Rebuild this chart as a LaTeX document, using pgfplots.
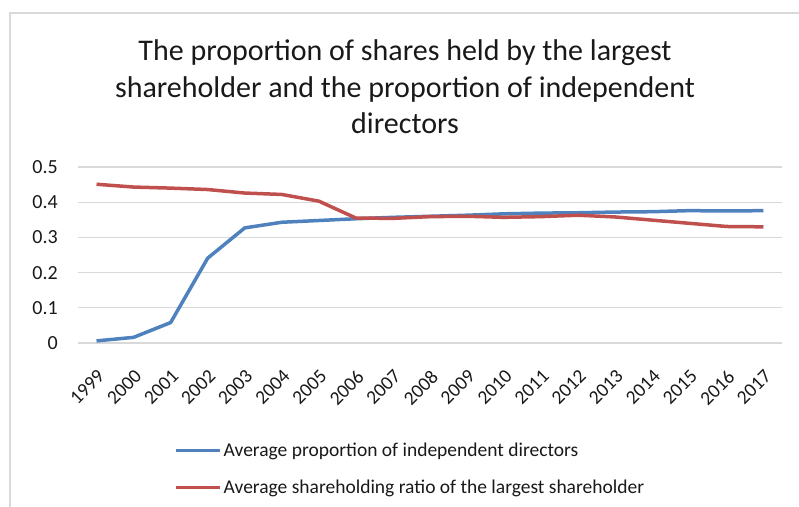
\documentclass[border=0pt]{standalone}
\usepackage{fontspec}
\setmainfont{Carlito}
\usepackage{pgfplots}
\pgfplotsset{compat=1.18}
\definecolor{serA}{HTML}{4F81BD}
\definecolor{serB}{HTML}{C0504D}
\definecolor{gridc}{HTML}{D9D9D9}
\pgfplotstableread{
x dir share
0 0.006 0.451
1 0.016 0.443
2 0.058 0.440
3 0.241 0.436
4 0.327 0.426
5 0.343 0.422
6 0.348 0.403
7 0.353 0.355
8 0.357 0.354
9 0.360 0.359
10 0.363 0.360
11 0.367 0.357
12 0.369 0.359
13 0.370 0.363
14 0.372 0.358
15 0.373 0.349
16 0.376 0.340
17 0.375 0.331
18 0.376 0.330
}\datatable
\begin{document}
\begin{tikzpicture}[x=1bp,y=1bp]
\path[use as bounding box] (-78,-164) rectangle (721,343);
\draw[gridc, line width=1.2bp] (-68,-170) -- (-68,330) -- (730,330);
\node[align=center, font=\fontsize{30bp}{36.5bp}\selectfont, text=black!90] at (327,256)
  {The proportion of shares held by the largest\\shareholder and the proportion of independent\\directors};
\begin{axis}[
  at={(0,0)}, anchor=south west,
  scale only axis, width=704bp, height=176bp,
  xmin=-0.5, xmax=18.5, ymin=0, ymax=0.5,
  ytick={0,0.1,0.2,0.3,0.4,0.5},
  xtick={0,...,18},
  xticklabels={1999,2000,2001,2002,2003,2004,2005,2006,2007,2008,2009,2010,2011,2012,2013,2014,2015,2016,2017},
  ymajorgrids, grid style={gridc, line width=1.2bp},
  axis line style={draw=none},
  major tick style={draw=none},
  /pgf/number format/assume math mode=true,
  yticklabel style={font=\fontsize{20bp}{24bp}\selectfont, inner sep=0pt, xshift=-20bp, text=black!90},
  xticklabel style={font=\fontsize{19.5bp}{23bp}\selectfont, xshift=0bp, yshift=-25.5bp, rotate=45, anchor=north east, inner sep=0pt, text=black!90},
  legend style={draw=none, fill=none, at={(axis cs:-0.5,0)}, anchor=north west, xshift=96bp, yshift=-98bp,
    font=\fontsize{19.5bp}{23bp}\selectfont, row sep=18bp, inner sep=0pt, text=black!90,
    /tikz/every even column/.append style={column sep=0pt}},
  legend cell align=left,
  legend image code/.code={\draw[#1, line width=3.5bp] (0bp,0bp) -- (44bp,0bp);},
]
\addplot[serA, line width=3.5bp, line join=round] table[x=x, y=dir] {\datatable};
\addlegendentry{Average proportion of independent directors}
\addplot[serB, line width=3.5bp, line join=round] table[x=x, y=share] {\datatable};
\addlegendentry{Average shareholding ratio of the largest shareholder}
\end{axis}
\end{tikzpicture}
\end{document}
